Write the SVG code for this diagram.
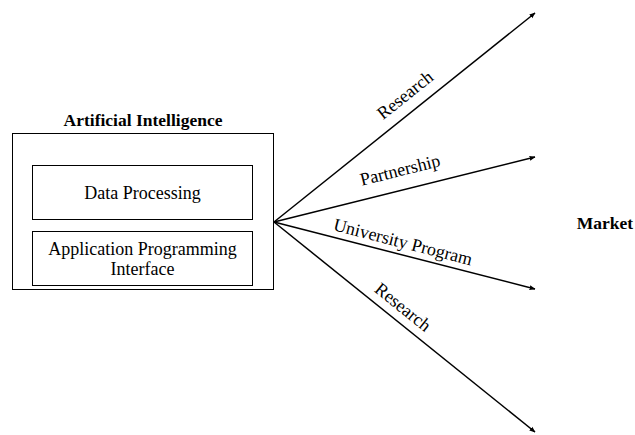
<svg xmlns="http://www.w3.org/2000/svg" width="635" height="435" viewBox="0 0 635 435">
<style>
text{font-family:"Liberation Serif","Times New Roman",serif;font-size:18px;fill:#000}
.b{font-weight:bold;font-size:17.5px}
.box{fill:#fff;stroke:#000;stroke-width:1}
.c{stroke:#000;stroke-width:1.5;fill:none;marker-end:url(#ah)}
</style>
<defs>
<marker id="ah" viewBox="0 0 10 10" refX="9" refY="5" markerWidth="6" markerHeight="6" orient="auto" markerUnits="userSpaceOnUse">
<path d="M0,1 L10,5 L0,9 z" fill="#000"/>
</marker>
</defs>
<rect width="635" height="435" fill="#fff"/>
<g id="ai">
<text class="b" x="143" y="126" text-anchor="middle">Artificial Intelligence</text>
<rect class="box" x="12.5" y="133.5" width="261" height="156"/>
</g>
<g id="dp">
<rect class="box" x="32.5" y="165.5" width="220" height="54"/>
<text x="142.5" y="199" text-anchor="middle">Data Processing</text>
</g>
<g id="api">
<rect class="box" x="32.5" y="231.5" width="220" height="54"/>
<text x="142.5" y="255" text-anchor="middle">Application Programming</text>
<text x="142.5" y="275" text-anchor="middle">Interface</text>
</g>
<g id="market">
<text class="b" x="605" y="229" text-anchor="middle">Market</text>
</g>
<g id="connectors">
<line class="c" x1="274" y1="222" x2="535" y2="13"/>
<line class="c" x1="274" y1="222" x2="535" y2="157"/>
<line class="c" x1="274" y1="222" x2="535" y2="289"/>
<line class="c" x1="274" y1="222" x2="535" y2="432"/>
<text transform="translate(405,95) rotate(-38.7)" y="6" text-anchor="middle">Research</text>
<text transform="translate(400,170) rotate(-14)" y="6" text-anchor="middle">Partnership</text>
<text transform="translate(403,242) rotate(14.4)" y="6" text-anchor="middle">University Program</text>
<text transform="translate(403,307) rotate(38.8)" y="6" text-anchor="middle">Research</text>
</g>
</svg>
